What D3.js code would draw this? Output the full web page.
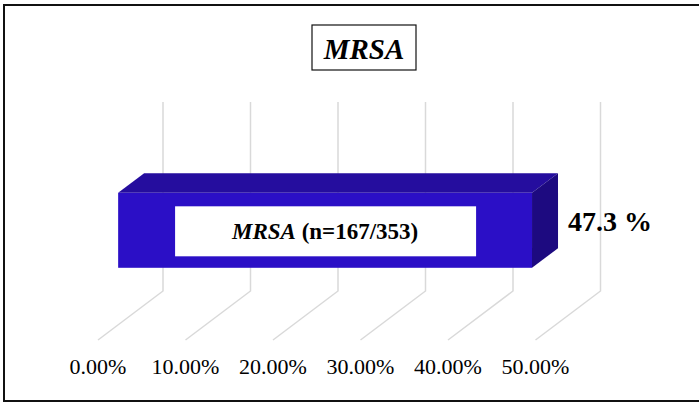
<!DOCTYPE html>
<head>
    <meta charset="utf-8">
    <script src="https://d3js.org/d3.v7.min.js"></script>
    <style>
        body { margin: 0; background: #fff; }
        text { font-family: "Liberation Serif", "Times New Roman", serif; }
    </style>
</head>

<div id="my_dataviz"></div>

<script>
// data
var categories = ["MRSA"];
var values = [0.473];
var counts = ["n=167/353"];
var valueLabels = ["47.3 %"];
var ticks = [0, 0.1, 0.2, 0.3, 0.4, 0.5];
var tickLabels = ["0.00%", "10.00%", "20.00%", "30.00%", "40.00%", "50.00%"];
var title = "MRSA";

var W = 699, H = 405;

var svg = d3.select("#my_dataviz")
    .append("svg")
    .attr("width", W)
    .attr("height", H);

// outer frame (right side runs off the picture)
svg.append("rect")
    .attr("x", 4).attr("y", 5)
    .attr("width", 700).attr("height", 396)
    .attr("fill", "none")
    .attr("stroke", "#111")
    .attr("stroke-width", 2);

// back wall scales
var x = d3.scaleLinear().domain([0, 0.5]).range([163, 600.5]);
var y = d3.scaleBand().domain(categories).range([102, 291]).padding(0.432);

// oblique depth vector of the floor
var depthX = -65, depthY = 49;
var dBack = 0.29, dFront = 0.69;

function proj(v, yy, d) {
    return [x(v) + depthX * d, yy + depthY * d];
}

// gridlines: up the back wall, then across the floor
svg.selectAll("gridLines")
    .data(ticks)
    .enter()
    .append("polyline")
    .attr("points", function(d) {
        return [[x(d), 102], [x(d), 291], [x(d) + depthX, 291 + depthY]].join(" ");
    })
    .attr("fill", "none")
    .attr("stroke", "#d9d9d9")
    .attr("stroke-width", 1.5);

// tick labels at the front edge of the floor
svg.selectAll("tickLabels")
    .data(ticks)
    .enter()
    .append("text")
    .attr("x", function(d) { return x(d) + depthX; })
    .attr("y", 374)
    .attr("text-anchor", "middle")
    .style("font-size", "22px")
    .text(function(d, i) { return tickLabels[i]; });

// 3D bar
categories.forEach(function(c, i) {
    var v = values[i];
    var top = y(c), bot = y(c) + y.bandwidth();

    // top face
    svg.append("polygon")
        .attr("points", [proj(0, top, dBack), proj(v, top, dBack), proj(v, top, dFront), proj(0, top, dFront)].join(" "))
        .attr("fill", "#250d9e");

    // side face
    svg.append("polygon")
        .attr("points", [proj(v, top, dBack), proj(v, bot, dBack), proj(v, bot, dFront), proj(v, top, dFront)].join(" "))
        .attr("fill", "#1d0a80");

    // front face
    var p0 = proj(0, top, dFront), p1 = proj(v, bot, dFront);
    svg.append("rect")
        .attr("x", p0[0]).attr("y", p0[1])
        .attr("width", p1[0] - p0[0]).attr("height", p1[1] - p0[1])
        .attr("fill", "#2b0fc6");

    // white label box on the front face
    var cx = (p0[0] + p1[0]) / 2, cy = (p0[1] + p1[1]) / 2;
    svg.append("rect")
        .attr("x", cx - 150).attr("y", cy - 24)
        .attr("width", 301).attr("height", 50)
        .attr("fill", "#fff");

    var t = svg.append("text")
        .attr("x", cx).attr("y", cy + 9)
        .attr("text-anchor", "middle")
        .style("font-size", "23px")
        .style("font-weight", "bold");
    t.append("tspan").style("font-style", "italic").text(c);
    t.append("tspan").text(" (" + counts[i] + ")");

    // value label
    svg.append("text")
        .attr("x", p1[0] + 36).attr("y", cy + 1)
        .style("font-size", "28px")
        .style("font-weight", "bold")
        .text(valueLabels[i]);
});

// title box
svg.append("rect")
    .attr("x", 312).attr("y", 25)
    .attr("width", 104).attr("height", 45)
    .attr("fill", "#fff")
    .attr("stroke", "#111")
    .attr("stroke-width", 1.2);

svg.append("text")
    .attr("x", 364).attr("y", 59)
    .attr("text-anchor", "middle")
    .style("font-size", "29px")
    .style("font-weight", "bold")
    .style("font-style", "italic")
    .text(title);
</script>
